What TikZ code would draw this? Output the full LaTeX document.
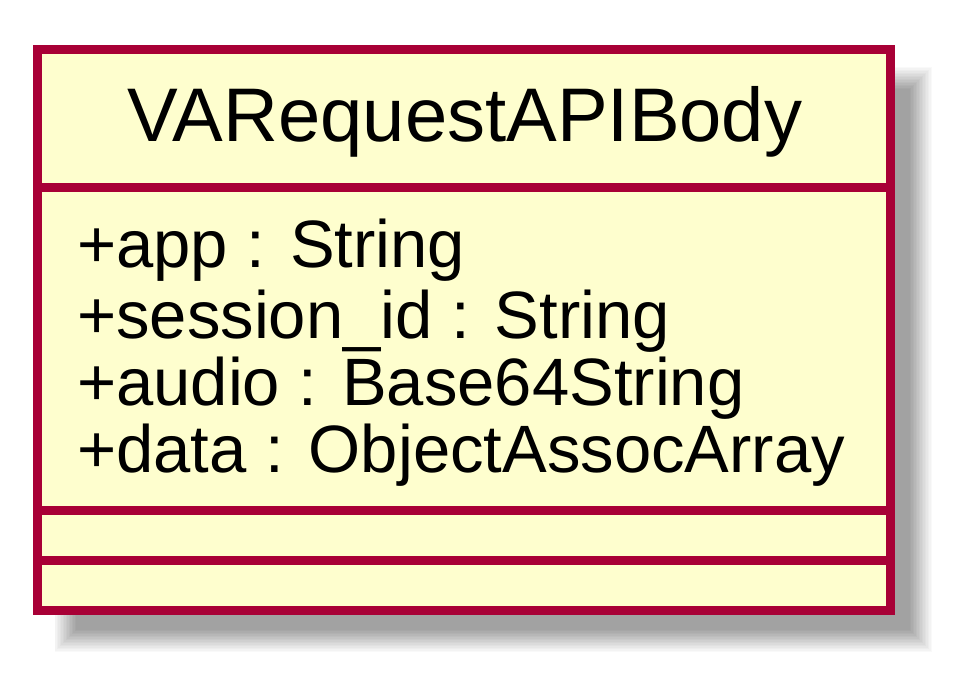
\documentclass[tikz,border=0pt]{standalone}
\usepackage{fontspec}
\setmainfont{Liberation Sans}
\definecolor{umlborder}{HTML}{A80036}
\definecolor{umlfill}{HTML}{FEFECE}
\definecolor{umlshadow}{HTML}{A2A2A2}
\tikzset{
  classbox/.style={draw=umlborder, fill=umlfill, line width=9pt},
  sepline/.style={draw=umlborder, line width=9pt},
  titletext/.style={font=\fontsize{76}{80}\selectfont, anchor=base, inner sep=0pt},
  attrtext/.style={font=\fontsize{67}{70}\selectfont, anchor=base west, inner sep=0pt},
}
\begin{document}
\begin{tikzpicture}[x=1pt,y=-1pt]
\useasboundingbox (0,0) rectangle (959,678);
\fill[white] (0,0) rectangle (959,678);
% blurred shadow
\begin{scope}
\clip (55,67) rectangle (959,678);
\foreach \k in {1,...,16}{
  \pgfmathsetmacro\e{-11+22*(\k-1)/15}
  \pgfmathsetmacro\op{1/(17-\k)}
  \fill[umlshadow, fill opacity=\op] (65+\e,78+\e) rectangle (921-\e,641-\e);
}
\end{scope}
\path[classbox] (37.5,49) rectangle (890.5,610);
\coordinate (s1l) at (37.5,187);
\coordinate (s1r) at (890.5,187);
\coordinate (s2l) at (37.5,510.5);
\coordinate (s2r) at (890.5,510.5);
\coordinate (s3l) at (37.5,560.5);
\coordinate (s3r) at (890.5,560.5);
\draw[sepline] (s1l) -- (s1r);
\draw[sepline] (s2l) -- (s2r);
\draw[sepline] (s3l) -- (s3r);
\node[titletext] (title) at (465,141) {VARequestAPIBody};
\node[attrtext] (a1) at (77,267) {+app : String};
\node[attrtext] (a2) at (77,338) {+session\_id : String};
\node[attrtext] (a3) at (77,405) {+audio : Base64String};
\node[attrtext] (a4) at (77,472) {+data : ObjectAssocArray};
\end{tikzpicture}
\end{document}
